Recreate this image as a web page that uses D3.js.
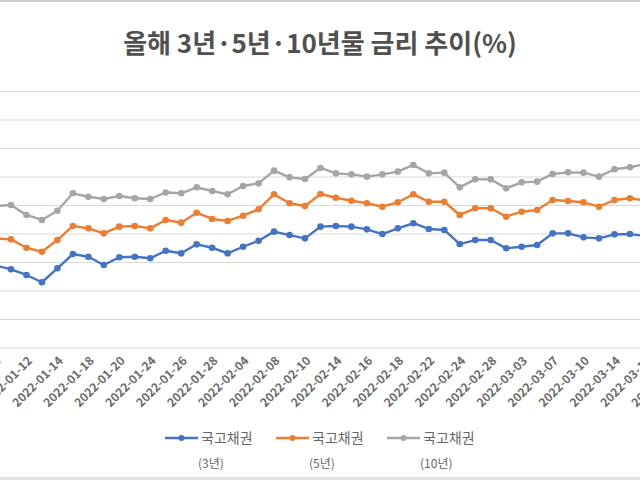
<!DOCTYPE html>
<html>
<head>
<meta charset="utf-8">
<script src="https://cdn.jsdelivr.net/npm/d3@7"></script>
<style>
  body { margin: 0; background: #fff; }
  svg { display: block; }
</style>
</head>
<body>
<div id="chart"></div>
<script>
// 국고채 3년/5년/10년 금리 (2022.01 ~ 03)
const dates = ["2022-01-10","2022-01-11","2022-01-12","2022-01-13","2022-01-14",
  "2022-01-17","2022-01-18","2022-01-19","2022-01-20","2022-01-21",
  "2022-01-24","2022-01-25","2022-01-26","2022-01-27","2022-01-28",
  "2022-02-03","2022-02-04","2022-02-07","2022-02-08","2022-02-09",
  "2022-02-10","2022-02-11","2022-02-14","2022-02-15","2022-02-16",
  "2022-02-17","2022-02-18","2022-02-21","2022-02-22","2022-02-23",
  "2022-02-24","2022-02-25","2022-02-28","2022-03-02","2022-03-03",
  "2022-03-04","2022-03-07","2022-03-08","2022-03-10","2022-03-11",
  "2022-03-14","2022-03-15","2022-03-16","2022-03-17","2022-03-18"];

const rate3y = [2.175,2.149,2.109,2.058,2.156,2.256,2.237,2.179,2.233,2.237,
  2.226,2.279,2.261,2.324,2.300,2.261,2.307,2.349,2.413,2.389,
  2.366,2.448,2.453,2.448,2.429,2.396,2.436,2.472,2.432,2.425,
  2.326,2.354,2.354,2.296,2.307,2.319,2.401,2.401,2.373,2.366,
  2.394,2.396,2.382];

const rate5y = [2.365,2.359,2.300,2.272,2.354,2.453,2.436,2.401,2.448,2.453,
  2.436,2.495,2.476,2.546,2.502,2.488,2.525,2.570,2.675,2.612,
  2.593,2.677,2.651,2.630,2.612,2.588,2.619,2.675,2.623,2.623,
  2.530,2.577,2.577,2.518,2.553,2.565,2.635,2.628,2.619,2.588,
  2.635,2.647,2.632];

const rate10y = [2.593,2.600,2.530,2.495,2.560,2.682,2.658,2.642,2.663,2.647,
  2.642,2.688,2.682,2.724,2.698,2.675,2.733,2.752,2.841,2.794,
  2.782,2.860,2.822,2.815,2.799,2.815,2.834,2.881,2.822,2.827,
  2.724,2.780,2.780,2.717,2.759,2.764,2.818,2.829,2.827,2.799,
  2.851,2.865,2.888];

const yTicks = [1.6,1.8,2.0,2.2,2.4,2.6,2.8,3.0,3.2,3.4];
const seriesNames = ["국고채권", "국고채권", "국고채권"];
const seriesSub = ["(3년)", "(5년)", "(10년)"];
const colors = ["#4472C4", "#ED7D31", "#A5A5A5"];

const WIDTH = 640, HEIGHT = 480;
const FONT = "'Noto Sans CJK KR', 'Noto Sans', sans-serif";

const svg = d3.select("#chart").append("svg")
  .attr("width", WIDTH).attr("height", HEIGHT);

// frame lines top/bottom
svg.append("rect").attr("x", 0).attr("y", 0).attr("width", WIDTH).attr("height", 2)
  .attr("fill", "#cfcfcf");
svg.append("rect").attr("x", 0).attr("y", 477).attr("width", WIDTH).attr("height", 3)
  .attr("fill", "#e2e2e2");

// title
svg.append("text")
  .attr("x", 320).attr("y", 53)
  .attr("text-anchor", "middle")
  .attr("font-family", FONT)
  .attr("font-weight", "bold")
  .attr("font-size", "26px")
  .attr("fill", "#505050")
  .text("올해 3년·5년·10년물 금리 추이(%)");

// scales (plot area runs past the picture edges)
const xScale = d3.scalePoint().domain(dates).range([-4.5, 676.4]);
const yScale = d3.scaleLinear().domain([1.6, 3.4]).range([347.5, 91]);

// gridlines
svg.append("g")
  .call(d3.axisLeft(yScale).tickValues(yTicks).tickSize(-WIDTH).tickFormat(""))
  .call(g => g.select(".domain").remove())
  .selectAll("line")
    .attr("stroke", "#d9d9d9")
    .attr("stroke-width", 1.2);

// x axis labels (every other date)
const xAxis = svg.append("g")
  .attr("transform", "translate(0,347.5)")
  .call(d3.axisBottom(xScale)
    .tickValues(dates.filter((d, i) => i % 2 === 0))
    .tickSize(0));
xAxis.select(".domain").remove();
xAxis.selectAll("text")
  .attr("font-family", FONT)
  .attr("font-size", "12px")
  .attr("font-weight", "bold")
  .attr("fill", "#6b6b6b")
  .attr("text-anchor", "end")
  .attr("dy", "0.35em")
  .attr("y", 0)
  .attr("transform", "translate(3,11) rotate(-45)");

// lines + markers
const allSeries = [rate3y, rate5y, rate10y];
const line = d3.line()
  .x((d, i) => xScale(dates[i]))
  .y(d => yScale(d));

allSeries.forEach((vals, k) => {
  svg.append("path")
    .datum(vals)
    .attr("fill", "none")
    .attr("stroke", colors[k])
    .attr("stroke-width", 2.4)
    .attr("stroke-linejoin", "round")
    .attr("d", line);

  svg.selectAll(".dot" + k)
    .data(vals)
    .enter()
    .append("circle")
      .attr("cx", (d, i) => xScale(dates[i]))
      .attr("cy", d => yScale(d))
      .attr("r", 3.3)
      .attr("fill", colors[k]);
});

// legend
const legend = svg.append("g");
seriesNames.forEach((name, k) => {
  const lx = 165 + k * 111;
  legend.append("line")
    .attr("x1", lx).attr("x2", lx + 33)
    .attr("y1", 438).attr("y2", 438)
    .attr("stroke", colors[k]).attr("stroke-width", 2.4);
  legend.append("circle")
    .attr("cx", lx + 16.5).attr("cy", 438).attr("r", 3)
    .attr("fill", colors[k]);
  legend.append("text")
    .attr("x", lx + 36).attr("y", 443)
    .attr("font-family", FONT).attr("font-size", "14px")
    .attr("fill", "#666")
    .text(name);
  legend.append("text")
    .attr("x", lx + 33).attr("y", 468)
    .attr("font-family", FONT).attr("font-size", "12px")
    .attr("fill", "#666")
    .text(seriesSub[k]);
});
</script>
</body>
</html>
